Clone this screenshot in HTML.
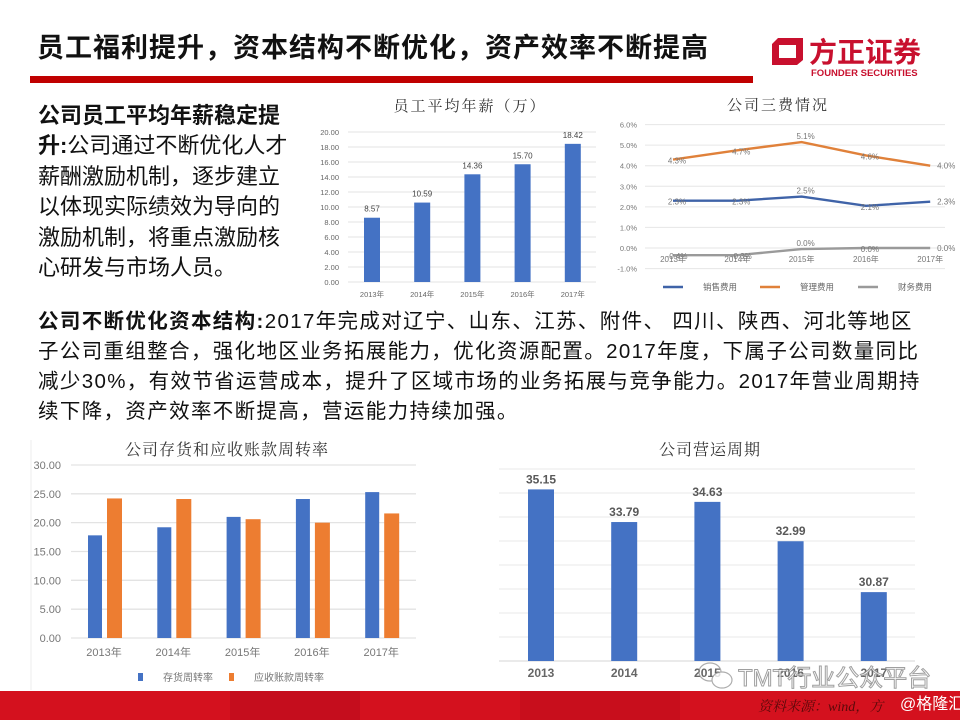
<!DOCTYPE html>
<html><head><meta charset="utf-8">
<style>
body{margin:0;width:960px;height:720px;overflow:hidden;background:#fff;position:relative;font-family:"Liberation Sans","Noto Sans CJK SC",sans-serif;}
.p{position:absolute;color:#111;white-space:nowrap;}
svg{position:absolute;left:0;top:0;}
</style></head><body>
<div class="p" style="left:37px;top:30px;font-size:27px;font-weight:bold;line-height:36px;letter-spacing:1px;">员工福利提升，资本结构不断优化，资产效率不断提高</div>
<div class="p" style="left:38px;top:101px;font-size:22px;line-height:30.4px;">
<b>公司员工平均年薪稳定提</b><br><b>升:</b>公司通过不断优化人才<br>薪酬激励机制，逐步建立<br>以体现实际绩效为导向的<br>激励机制，将重点激励核<br>心研发与市场人员。</div>
<div class="p" style="left:38px;top:307px;font-size:20.5px;line-height:30px;letter-spacing:1.35px;">
<b>公司不断优化资本结构:</b>2017年完成对辽宁、山东、江苏、附件、 四川、陕西、河北等地区<br>子公司重组整合，强化地区业务拓展能力，优化资源配置。2017年度，下属子公司数量同比<br>减少30%，有效节省运营成本，提升了区域市场的业务拓展与竞争能力。2017年营业周期持<br>续下降，资产效率不断提高，营运能力持续加强。</div>
<svg id="s" width="960" height="720">
<rect x="30" y="76" width="723" height="7" fill="#c00000"/>
<g>
<path d="M778 38 H803 V60 L797 65 H772 V44 Z M779 45 V58 H796 V45 Z" fill="#c8102e" fill-rule="evenodd"/>
<text x="809" y="62" font-size="28" font-weight="bold" fill="#c8102e">方正证券</text>
<text x="811" y="76" font-size="9.5" font-weight="bold" fill="#c8102e">FOUNDER SECURITIES</text>
</g>
<g id="c1"></g>
<g id="c2"></g>
<g id="c3"></g>
<g id="c4"></g>
<rect x="0" y="691" width="960" height="29" fill="#d4111e"/>
<rect x="230" y="691" width="130" height="29" fill="#c00d1d" opacity="0.8"/>
<rect x="520" y="691" width="160" height="29" fill="#c40e1c" opacity="0.8"/>
<text x="758" y="711" font-size="14" font-style="italic" fill="#5a0a0a" font-family="Liberation Serif,Noto Serif CJK SC,serif">资料来源：wind，方</text>
<text x="900" y="709" font-size="16" fill="#fff">@格隆汇</text>
<g opacity="0.8">
<ellipse cx="710" cy="672" rx="11" ry="9" fill="none" stroke="#999" stroke-width="1.2"/>
<ellipse cx="722" cy="680" rx="10" ry="8" fill="#fff" stroke="#999" stroke-width="1.2"/>
<text x="738" y="686" font-size="24" fill="#fff" stroke="#888" stroke-width="1">TMT行业公众平台</text>
</g>
</svg>
<script>
const NS='http://www.w3.org/2000/svg';
function mk(p,t,a,txt){const e=document.createElementNS(NS,t);for(const k in a)e.setAttribute(k,a[k]);if(txt!==undefined)e.textContent=txt;p.appendChild(e);return e;}
const serif='"Liberation Serif","Noto Serif CJK SC",serif';

// Chart 1 data
const salaryYears=['2013年','2014年','2015年','2016年','2017年'];
const salaryValues=[8.57,10.59,14.36,15.70,18.42];
const salaryTicks=[0,2,4,6,8,10,12,14,16,18,20];
// Chart 2 data
const expYears=['2013年','2014年','2015年','2016年','2017年'];
const salesExp=[2.3,2.3,2.5,2.05,2.25];
const mgmtExp=[4.3,4.75,5.15,4.5,4.0];
const finExp=[-0.35,-0.35,-0.05,0.0,0.0];
const salesLabels=['2.3%','2.3%','2.5%','2.1%','2.3%'];
const mgmtLabels=['4.3%','4.7%','5.1%','4.6%','4.0%'];
const finLabels=['-0.4%','-0.3%','0.0%','0.0%','0.0%'];
const expTicks=[-1,0,1,2,3,4,5,6];
// Chart 3 data
const turnYears=['2013年','2014年','2015年','2016年','2017年'];
const invTurn=[17.8,19.2,21.0,24.1,25.3];
const arTurn=[24.2,24.1,20.6,20.0,21.6];
const turnTicks=[0,5,10,15,20,25,30];
// Chart 4 data
const cycleYears=['2013','2014','2015','2016','2017'];
const cycleValues=[35.15,33.79,34.63,32.99,30.87];
const cycleTicks=[28,29,30,31,32,33,34,35,36];

// ---- chart1
(function(){
const g=document.getElementById('c1');
const y=v=>282-v*7.5, x=i=>372+i*50.2;
mk(g,'text',{x:470,y:111,'font-size':15,'text-anchor':'middle','font-family':serif,fill:'#333','letter-spacing':2},'员工平均年薪（万）');
salaryTicks.forEach(t=>{
 const gl=mk(g,'line',{x1:348,x2:596,y1:y(t),y2:y(t),stroke:'#e3e3e3'});
 
 mk(g,'text',{x:339,y:y(t)+3,'font-size':7.5,'text-anchor':'end',fill:'#666'},t.toFixed(2));
});
salaryValues.forEach((v,i)=>{
 const b=mk(g,'rect',{x:x(i)-8,y:y(v),width:16,height:y(0)-y(v),fill:'#4472c4'});
 
 mk(g,'text',{x:x(i),y:y(v)-6,'font-size':8,'text-anchor':'middle',fill:'#444'},v.toFixed(2));
 mk(g,'text',{x:x(i),y:297,'font-size':7.5,'text-anchor':'middle',fill:'#666'},salaryYears[i]);
});
})();
// ---- chart2
(function(){
const g=document.getElementById('c2');
const y=v=>248-v*20.57, x=i=>673+i*64.3;
mk(g,'text',{x:778,y:110,'font-size':15,'text-anchor':'middle','font-family':serif,fill:'#333','letter-spacing':2},'公司三费情况');
expTicks.forEach(t=>{
 const gl=mk(g,'line',{x1:645,x2:945,y1:y(t),y2:y(t),stroke:'#e6e6e6'});
 
 mk(g,'text',{x:637,y:y(t)+3,'font-size':7.5,'text-anchor':'end',fill:'#777'},t.toFixed(1)+'%');
});
expYears.forEach((s,i)=>mk(g,'text',{x:x(i),y:262,'font-size':8,'text-anchor':'middle',fill:'#777'},s));
const series=[[salesExp,salesLabels,'#3f63a8','sales-expense-line'],[mgmtExp,mgmtLabels,'#e0813a','management-expense-line'],[finExp,finLabels,'#9a9a9a','finance-expense-line']];
series.forEach(([d,l,c,n])=>{
 const p=mk(g,'polyline',{points:d.map((v,i)=>x(i)+','+y(v)).join(' '),fill:'none',stroke:c,'stroke-width':2.4});
 
 d.forEach((v,i)=>mk(g,'text',{x:i==4?x(i)+16:x(i)+4,y:y(v)+(i==4?3:(i==2?-3:4)),'font-size':8,'text-anchor':'middle',fill:'#777'},l[i]));
});
[['销售费用',663,'#3f63a8'],['管理费用',760,'#e0813a'],['财务费用',858,'#9a9a9a']].forEach(([t,lx,c])=>{
 const lg=mk(g,'g',{});
 mk(lg,'line',{x1:lx,x2:lx+20,y1:287,y2:287,stroke:c,'stroke-width':2.5});
 mk(lg,'text',{x:lx+40,y:290,'font-size':8.5,fill:'#666'},t);
});
})();
// ---- chart3
(function(){
const g=document.getElementById('c3');
const y=v=>638-v*5.767, x=i=>104+i*69.3;
mk(g,'line',{x1:31,x2:31,y1:440,y2:690,stroke:'#eee'});
mk(g,'text',{x:227,y:455,'font-size':16,'text-anchor':'middle','font-family':serif,fill:'#333','letter-spacing':1},'公司存货和应收账款周转率');
turnTicks.forEach(t=>{
 const gl=mk(g,'line',{x1:71,x2:416,y1:y(t),y2:y(t),stroke:'#e3e3e3','stroke-width':1.3});
 
 mk(g,'text',{x:61,y:y(t)+4,'font-size':11,'text-anchor':'end',fill:'#777'},t.toFixed(2));
});
turnYears.forEach((s,i)=>{
 const a=mk(g,'rect',{x:x(i)-16,y:y(invTurn[i]),width:14,height:y(0)-y(invTurn[i]),fill:'#4472c4'});
 
 const b=mk(g,'rect',{x:x(i)+3,y:y(arTurn[i]),width:15,height:y(0)-y(arTurn[i]),fill:'#ed7d31'});
 
 mk(g,'text',{x:x(i),y:656,'font-size':11,'text-anchor':'middle',fill:'#777'},s);
});
[['存货周转率',138,'#4472c4'],['应收账款周转率',229,'#ed7d31']].forEach(([t,lx,c])=>{
 const lg=mk(g,'g',{});
 mk(lg,'rect',{x:lx,y:673,width:5,height:8,fill:c});
 mk(lg,'text',{x:lx+25,y:681,'font-size':10,fill:'#777'},t);
});
})();
// ---- chart4
(function(){
const g=document.getElementById('c4');
const y=v=>661-(v-28)*24, x=i=>541+i*83.2;
mk(g,'text',{x:710,y:455,'font-size':16,'text-anchor':'middle','font-family':serif,fill:'#333','letter-spacing':1},'公司营运周期');
cycleTicks.forEach(t=>{
 const gl=mk(g,'line',{x1:499,x2:915,y1:y(t),y2:y(t),stroke:t==28?'#ddd':'#eee','stroke-width':1.3});
 
});
cycleValues.forEach((v,i)=>{
 const b=mk(g,'rect',{x:x(i)-13,y:y(v),width:26,height:y(28)-y(v),fill:'#4472c4'});
 
 mk(g,'text',{x:x(i),y:y(v)-6,'font-size':12,'font-weight':'bold','text-anchor':'middle',fill:'#595959'},v.toFixed(2));
 mk(g,'text',{x:x(i),y:677,'font-size':12,'font-weight':'bold','text-anchor':'middle',fill:'#666'},cycleYears[i]);
});
})();
</script>
</body></html>
